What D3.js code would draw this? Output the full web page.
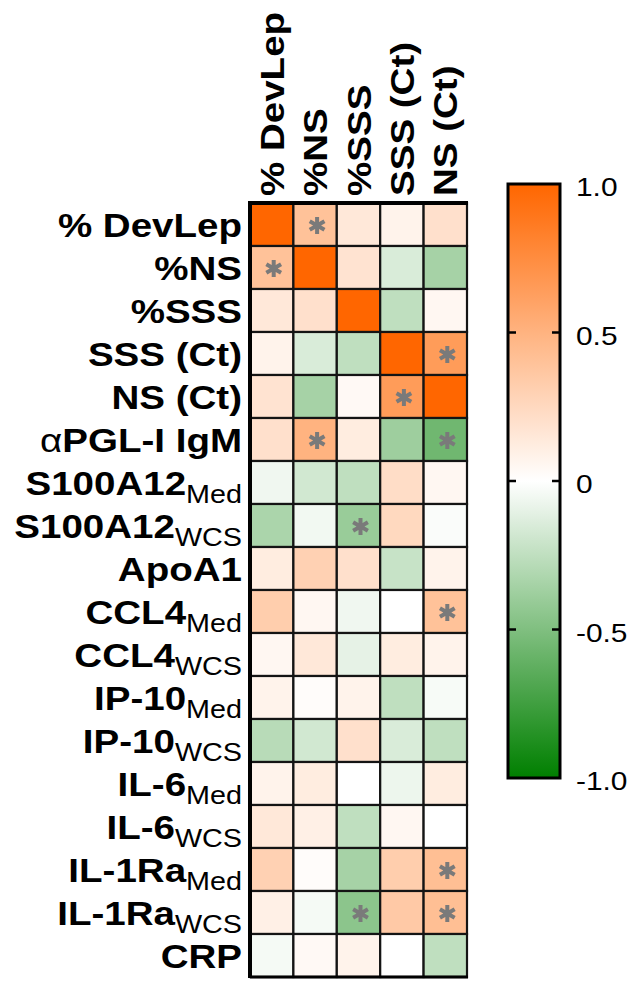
<!DOCTYPE html>
<html>
<head>
<meta charset="utf-8">
<script src="https://cdn.jsdelivr.net/npm/d3@7"></script>
<style>
  html, body { margin: 0; padding: 0; background: #fff; }
  svg { display: block; }
  text { font-family: "Liberation Sans", Arial, sans-serif; }
</style>
</head>
<body>
<svg id="chart" width="631" height="982"></svg>
<script>
// Correlation matrix: variables down the side, clinical measures across the top
const columns = ["% DevLep", "%NS", "%SSS", "SSS (Ct)", "NS (Ct)"];
const rowPrefix = ["", "", "", "", "", "\u03b1", "", "", "", "", "", "", "", "", "", "", "", ""];
const rowMain = ["% DevLep", "%NS", "%SSS", "SSS (Ct)", "NS (Ct)", "PGL-I IgM",
  "S100A12", "S100A12", "ApoA1", "CCL4", "CCL4", "IP-10", "IP-10",
  "IL-6", "IL-6", "IL-1Ra", "IL-1Ra", "CRP"];
const rowSub = ["", "", "", "", "", "", "Med", "WCS", "", "Med", "WCS", "Med", "WCS",
  "Med", "WCS", "Med", "WCS", ""];

// Spearman r for each row, in column order
const values = [
  [ 1.00,  0.40,  0.15,  0.08,  0.20],
  [ 0.40,  1.00,  0.18, -0.15, -0.35],
  [ 0.15,  0.20,  1.00, -0.25,  0.05],
  [ 0.08, -0.15, -0.25,  1.00,  0.65],
  [ 0.18, -0.35,  0.04,  0.65,  1.00],
  [ 0.20,  0.50,  0.12, -0.38, -0.56],
  [-0.06, -0.18, -0.25,  0.22,  0.05],
  [-0.33, -0.05, -0.40,  0.25, -0.02],
  [ 0.12,  0.30,  0.20, -0.22,  0.08],
  [ 0.32,  0.05, -0.06,  0.00,  0.40],
  [ 0.05,  0.15, -0.10,  0.12,  0.08],
  [ 0.08,  0.02,  0.08, -0.25, -0.03],
  [-0.28, -0.18,  0.20, -0.15, -0.25],
  [ 0.08,  0.12,  0.00, -0.07,  0.12],
  [ 0.15,  0.10, -0.25,  0.05,  0.00],
  [ 0.30,  0.02, -0.35,  0.32,  0.42],
  [ 0.10, -0.04, -0.45,  0.35,  0.42],
  [-0.04,  0.04,  0.08,  0.00, -0.25]
];

// Significant correlations, as [row, column]
const significant = [[0, 1], [1, 0], [3, 4], [4, 3], [5, 1], [5, 4], [7, 2], [9, 4], [15, 4], [16, 2], [16, 4]];

const legendTicks = [1.0, 0.5, 0, -0.5, -1.0];
const legendTickLabels = ["1.0", "0.5", "0", "-0.5", "-1.0"];

const svg = d3.select("#chart");
const grid = { left: 250, right: 467, top: 203, bottom: 977 };
const stretch = 1.15;

const x = d3.scaleBand().domain(d3.range(columns.length)).range([grid.left, grid.right]);
const y = d3.scaleBand().domain(d3.range(rowMain.length)).range([grid.top, grid.bottom]);
const color = d3.scaleLinear().domain([-1, 0, 1]).range(["#007f00", "#ffffff", "#ff6600"]);

// Heatmap cells
const cells = [];
values.forEach((row, i) => row.forEach((v, j) => cells.push({ i, j, v })));
svg.append("g").selectAll("rect").data(cells).join("rect")
  .attr("x", d => x(d.j))
  .attr("y", d => y(d.i))
  .attr("width", x.bandwidth())
  .attr("height", y.bandwidth())
  .attr("fill", d => color(d.v))
  .attr("stroke", "#141414")
  .attr("stroke-width", 2.2);

// Heavier frame on the left and top edges
svg.append("line").attr("x1", grid.left).attr("x2", grid.left)
  .attr("y1", grid.top - 2).attr("y2", grid.bottom + 1)
  .attr("stroke", "#000").attr("stroke-width", 4);
svg.append("line").attr("x1", grid.left - 2).attr("x2", grid.right + 1)
  .attr("y1", grid.top).attr("y2", grid.top)
  .attr("stroke", "#000").attr("stroke-width", 4);
svg.append("line").attr("x1", grid.left).attr("x2", grid.right + 1)
  .attr("y1", grid.bottom).attr("y2", grid.bottom)
  .attr("stroke", "#000").attr("stroke-width", 3);

// Significance asterisks
const r = 8.5;
const starPath = d3.range(3).map(k => {
  const a = (90 + k * 60) * Math.PI / 180;
  return `M${-r * Math.cos(a)},${-r * Math.sin(a)}L${r * Math.cos(a)},${r * Math.sin(a)}`;
}).join("");
svg.append("g").selectAll("path").data(significant).join("path")
  .attr("transform", d => `translate(${x(d[1]) + x.bandwidth() / 2 + 2},${y(d[0]) + y.bandwidth() / 2 + 1})`)
  .attr("d", starPath)
  .attr("stroke", "#7a7a7a")
  .attr("stroke-width", 4)
  .attr("fill", "none");

// Row labels
const rowLabels = svg.append("g").selectAll("text").data(rowMain).join("text")
  .attr("transform", (d, i) => `translate(242,${y(i) + y.bandwidth() / 2 + 12}) scale(${stretch},1)`)
  .attr("text-anchor", "end")
  .attr("font-size", 33.5)
  .attr("fill", "#000");
rowLabels.each(function (d, i) {
  const t = d3.select(this);
  if (rowPrefix[i]) t.append("tspan").attr("font-weight", "normal").text(rowPrefix[i]);
  t.append("tspan").attr("font-weight", "bold").text(d);
  if (rowSub[i]) {
    t.append("tspan").attr("font-weight", "normal").attr("font-size", 25).attr("dy", 8).text(rowSub[i]);
  }
});

// Column labels, reading upward
svg.append("g").selectAll("text").data(columns).join("text")
  .attr("transform", (d, j) => `translate(${x(j) + x.bandwidth() / 2 + 12},196) rotate(-90) scale(${stretch},1)`)
  .attr("text-anchor", "start")
  .attr("font-size", 33.5)
  .attr("font-weight", "bold")
  .attr("fill", "#000")
  .text(d => d);

// Colour legend
const legend = { x: 508, w: 52, top: 184, bottom: 778 };
const ly = d3.scaleLinear().domain([-1, 1]).range([legend.bottom, legend.top]);
const defs = svg.append("defs");
const grad = defs.append("linearGradient").attr("id", "rgrad")
  .attr("x1", 0).attr("y1", 1).attr("x2", 0).attr("y2", 0);
d3.range(-1, 1.0001, 0.1).forEach(v => {
  grad.append("stop").attr("offset", (v + 1) / 2).attr("stop-color", color(v));
});
svg.append("rect")
  .attr("x", legend.x).attr("y", legend.top)
  .attr("width", legend.w).attr("height", legend.bottom - legend.top)
  .attr("fill", "url(#rgrad)")
  .attr("stroke", "#000").attr("stroke-width", 3);

const inner = legendTicks.filter(t => Math.abs(t) < 1);
svg.append("g").selectAll("path").data(inner).join("path")
  .attr("d", t => `M${legend.x},${ly(t)}h8M${legend.x + legend.w},${ly(t)}h-8`)
  .attr("stroke", "#000").attr("stroke-width", 2.5);

svg.append("g").selectAll("text").data(legendTicks).join("text")
  .attr("transform", (t, k) => `translate(576,${ly(t) + 3}) scale(${stretch},1)`)
  .attr("dy", "0.36em")
  .attr("font-size", 26)
  .attr("fill", "#000")
  .text((t, k) => legendTickLabels[k]);
</script>
</body>
</html>
